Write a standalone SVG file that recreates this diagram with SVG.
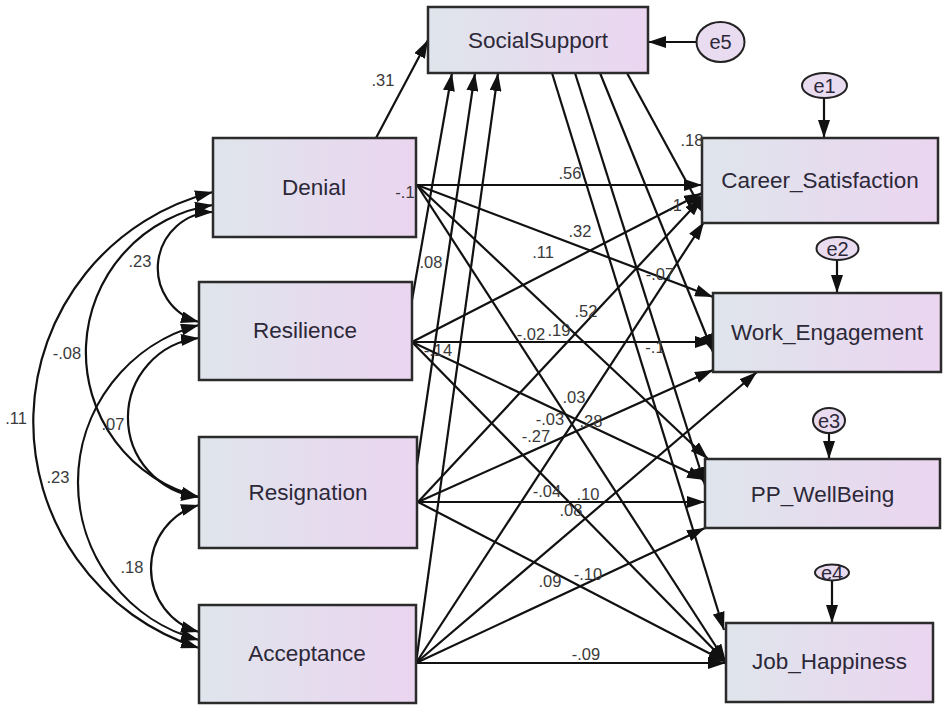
<svg xmlns="http://www.w3.org/2000/svg" width="943" height="705" viewBox="0 0 943 705">
<defs>
<linearGradient id="g" x1="0" y1="0" x2="1" y2="0">
<stop offset="0" stop-color="#dfe5ec"/>
<stop offset="1" stop-color="#ebd5f0"/>
</linearGradient>
<marker id="ah" viewBox="0 0 18 12" refX="18" refY="6" markerWidth="18" markerHeight="12" markerUnits="userSpaceOnUse" orient="auto-start-reverse"><path d="M0,0 L18,6 L0,12 z" fill="#111"/></marker>
</defs>
<style>
.box{fill:url(#g);stroke:#2b2b2b;stroke-width:2.5}
.err{fill:#eadcf0;stroke:#222;stroke-width:2}
.nt{font-family:"Liberation Sans",Arial,sans-serif;font-size:22.5px;fill:#2c2838;text-anchor:middle}
.et{font-family:"Liberation Sans",Arial,sans-serif;font-size:20px;fill:#2c2838;text-anchor:middle}
.lb{font-family:"Liberation Sans",Arial,sans-serif;font-size:16.5px;fill:#3a3a3a;text-anchor:middle}
.c{fill:none;stroke:#111;stroke-width:2.2;marker-end:url(#ah)}
.cov{fill:none;stroke:#111;stroke-width:2.2;marker-start:url(#ah);marker-end:url(#ah)}
</style>
<rect width="943" height="705" fill="#fff"/>
<g id="connectors">
<path class="cov" d="M213,212 A56,56 0 0,0 199,322"/>
<path class="cov" d="M213,205 A149,149 0 0,0 199,497"/>
<path class="cov" d="M213,192 A237,237 0 0,0 199,648"/>
<path class="cov" d="M199,338 A80,80 0 0,0 199,497"/>
<path class="cov" d="M199,325 A163,163 0 0,0 199,640"/>
<path class="cov" d="M199,505 A66,66 0 0,0 199,632"/>
<path class="c" d="M376,138 L428,40"/>
<path class="c" d="M412,300 L452,73"/>
<path class="c" d="M417,465 L475,73"/>
<path class="c" d="M416,663 L498,73"/>
<path class="c" d="M697,42 L648,42"/>
<path class="c" d="M824,98 L824,138"/>
<path class="c" d="M837,260 L837,293"/>
<path class="c" d="M829,433 L829,459"/>
<path class="c" d="M832,580 L832,623"/>
<path class="c" d="M417,185 L702,185"/>
<path class="c" d="M417,185 L713,297"/>
<path class="c" d="M417,185 L708,459"/>
<path class="c" d="M417,185 L726,662"/>
<path class="c" d="M412,342 L702,193"/>
<path class="c" d="M412,342 L713,342"/>
<path class="c" d="M412,342 L705,480"/>
<path class="c" d="M412,342 L726,662"/>
<path class="c" d="M418,502 L702,198"/>
<path class="c" d="M418,502 L713,370"/>
<path class="c" d="M418,502 L705,502"/>
<path class="c" d="M418,502 L726,662"/>
<path class="c" d="M416,663 L704,222"/>
<path class="c" d="M416,663 L757,372"/>
<path class="c" d="M416,663 L705,528"/>
<path class="c" d="M416,663 L726,663"/>
<path class="c" d="M627,73 L704,214"/>
<path class="c" d="M600,73 L713,352"/>
<path class="c" d="M575,73 L705,485"/>
<path class="c" d="M552,73 L724,630"/>
</g>
<g id="SocialSupport"><rect class="box" x="428" y="7" width="220" height="66"/><text class="nt" x="538" y="48">SocialSupport</text></g>
<g id="e5"><ellipse class="err" cx="720.5" cy="42" rx="24" ry="20"/><text class="et" x="720.5" y="49">e5</text></g>
<g id="Denial"><rect class="box" x="213" y="138" width="203" height="99"/><text class="nt" x="314" y="195">Denial</text></g>
<g id="Resilience"><rect class="box" x="199" y="282" width="213" height="98"/><text class="nt" x="305" y="338">Resilience</text></g>
<g id="Resignation"><rect class="box" x="199" y="437" width="218" height="111"/><text class="nt" x="308" y="500">Resignation</text></g>
<g id="Acceptance"><rect class="box" x="199" y="605" width="217" height="98"/><text class="nt" x="307" y="661">Acceptance</text></g>
<g id="Career_Satisfaction"><rect class="box" x="702" y="138" width="236" height="85"/><text class="nt" x="820" y="188">Career_Satisfaction</text></g>
<g id="e1"><ellipse class="err" cx="824.5" cy="85.5" rx="22.5" ry="12.5"/><text class="et" x="824.5" y="92.5">e1</text></g>
<g id="Work_Engagement"><rect class="box" x="713" y="293" width="228" height="79"/><text class="nt" x="827" y="340">Work_Engagement</text></g>
<g id="e2"><ellipse class="err" cx="837.5" cy="248.5" rx="21" ry="11.5"/><text class="et" x="837.5" y="255.5">e2</text></g>
<g id="PP_WellBeing"><rect class="box" x="705" y="459" width="235" height="69"/><text class="nt" x="822.5" y="502">PP_WellBeing</text></g>
<g id="e3"><ellipse class="err" cx="829" cy="420.5" rx="16" ry="12.5"/><text class="et" x="829" y="427.5">e3</text></g>
<g id="Job_Happiness"><rect class="box" x="726" y="623" width="207" height="79"/><text class="nt" x="829.5" y="669">Job_Happiness</text></g>
<g id="e4"><ellipse class="err" cx="832" cy="572.5" rx="17" ry="8"/><text class="et" x="832" y="579.5">e4</text></g>
<g id="labels">
<text class="lb" x="383" y="86">.31</text>
<text class="lb" x="692" y="146">.18</text>
<text class="lb" x="570" y="179">.56</text>
<text class="lb" x="405" y="198">-.1</text>
<text class="lb" x="675" y="211">.1</text>
<text class="lb" x="580" y="237">.32</text>
<text class="lb" x="543" y="258">.11</text>
<text class="lb" x="431" y="268">.08</text>
<text class="lb" x="660" y="280">-.07</text>
<text class="lb" x="586" y="317">.52</text>
<text class="lb" x="531" y="340">-.02</text>
<text class="lb" x="559" y="336">.19</text>
<text class="lb" x="438" y="356">-.14</text>
<text class="lb" x="655" y="353">-.1</text>
<text class="lb" x="574" y="403">.03</text>
<text class="lb" x="550" y="425">-.03</text>
<text class="lb" x="536" y="442">-.27</text>
<text class="lb" x="591" y="427">.28</text>
<text class="lb" x="547" y="497">-.04</text>
<text class="lb" x="588" y="500">.10</text>
<text class="lb" x="571" y="516">.08</text>
<text class="lb" x="550" y="587">.09</text>
<text class="lb" x="588" y="580">-.10</text>
<text class="lb" x="586" y="660">-.09</text>
<text class="lb" x="140" y="267">.23</text>
<text class="lb" x="67" y="359">-.08</text>
<text class="lb" x="16" y="424">.11</text>
<text class="lb" x="113" y="430">.07</text>
<text class="lb" x="58" y="483">.23</text>
<text class="lb" x="132" y="573">.18</text>
</g>
</svg>
